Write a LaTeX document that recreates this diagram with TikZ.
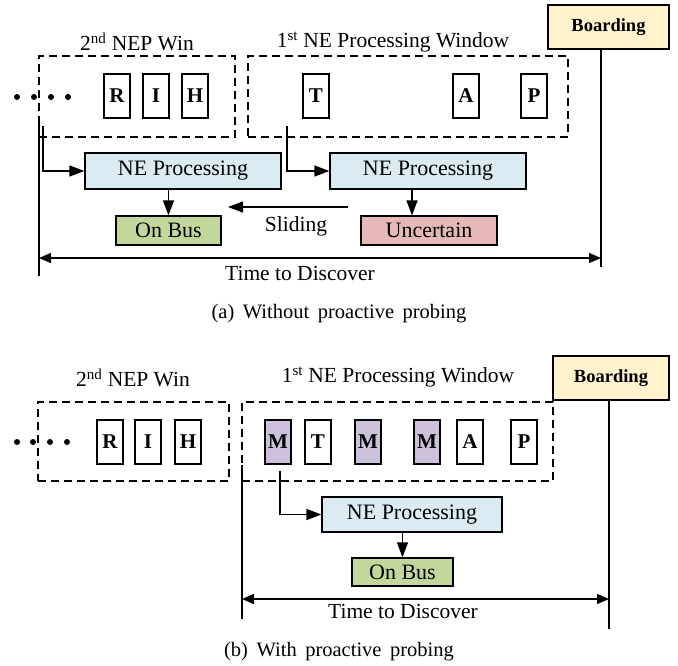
\documentclass[tikz,border=0pt]{standalone}
\usepackage{fontspec}
\setmainfont{Liberation Serif}
\usetikzlibrary{arrows.meta}
\definecolor{procblue}{RGB}{218,236,242}
\definecolor{busgreen}{RGB}{195,214,155}
\definecolor{uncpink}{RGB}{230,184,183}
\definecolor{brdyellow}{RGB}{255,242,204}
\definecolor{mpurple}{RGB}{204,192,218}
\tikzset{
  win/.style={draw, dashed, dash pattern=on 8pt off 5pt, line width=1.2pt, inner sep=0pt},
  ltr/.style={draw, line width=1.2pt, minimum width=26pt, minimum height=44pt, inner sep=0pt,
    font=\fontsize{21}{23}\selectfont\bfseries},
  mltr/.style={ltr, fill=mpurple},
  proc/.style={draw, line width=1.2pt, fill=procblue, minimum height=36pt, inner sep=0pt,
    font=\fontsize{22}{24}\selectfont},
  res/.style={draw, line width=1.2pt, minimum height=29pt, inner sep=0pt,
    font=\fontsize{22}{24}\selectfont},
  brd/.style={draw, line width=1.2pt, fill=brdyellow, inner sep=0pt,
    font=\fontsize{18.5}{20}\selectfont\bfseries},
  lbl/.style={font=\fontsize{21.5}{24}\selectfont, inner sep=0pt},
  captext/.style={font=\fontsize{20.5}{24}\selectfont, inner sep=0pt},
  arr/.style={line width=1.2pt, -{Triangle[length=15pt,width=11pt]}},
  darr/.style={line width=1.4pt, {Triangle[length=12pt,width=10pt]}-{Triangle[length=12pt,width=10pt]}},
  tline/.style={line width=1.6pt},
  dot/.style={circle, fill, inner sep=0pt, minimum size=6pt}
}
\begin{document}
\begin{tikzpicture}[x=1pt,y=-1pt]
\useasboundingbox (0,0) rectangle (678,665);

% (a) without proactive probing
\foreach \i/\x in {1/17,2/34,3/51,4/68} \node[dot] (ad\i) at (\x,97) {};
\node[win, minimum width=196pt, minimum height=81pt] (aw2) at (137,96.5) {};
\node[win, minimum width=320pt, minimum height=81pt] (aw1) at (408,96.5) {};
\node[lbl] (awl2) at (137,42) {2\textsuperscript{nd} NEP Win};
\node[lbl] (awl1) at (393,42) {1\textsuperscript{st} NE Processing Window};
\node[ltr] (aR) at (117,96) {R};
\node[ltr] (aI) at (156,96) {I};
\node[ltr] (aH) at (195,96) {H};
\node[ltr] (aT) at (316,96) {T};
\node[ltr] (aA) at (466,96) {A};
\node[ltr] (aP) at (534,96) {P};
\node[brd, minimum width=121pt, minimum height=44pt] (abrd) at (608.5,27) {Boarding};
\node[proc, minimum width=196pt] (ane1) at (183,171) {NE Processing};
\node[proc, minimum width=196pt] (ane2) at (428,171) {NE Processing};
\node[res, fill=busgreen, minimum width=105pt] (abus) at (168.5,230.5) {On Bus};
\node[res, fill=uncpink, minimum width=136pt] (aunc) at (429,230.5) {Uncertain};
\coordinate (atop) at (39,118);
\coordinate (abot) at (39,276);
\coordinate (aend) at (601,267);
\coordinate (as1) at (43,126);
\coordinate (as2) at (287,126);
\coordinate (asl1) at (348,207);
\coordinate (asl2) at (228,207);
\draw[tline] (atop) -- (abot);
\draw[tline] (abrd.south -| aend) -- (aend);
\draw[arr] (as1) |- (ane1.west);
\draw[arr] (as2) |- (ane2.west);
\draw[arr] (ane1.south -| abus.north) -- (abus.north);
\draw[arr] (ane2.south -| 412,0) -- (aunc.north -| 412,0);
\draw[arr] (asl1) -- (asl2);
\node[lbl] (aslt) at (296,226) {Sliding};
\draw[darr] (atop |- 0,258) -- (aend |- 0,258);
\node[lbl] (atime) at (300,273) {Time to Discover};
\node[captext] (acap) at (339,314) {(a)\, Without\, proactive\, probing};

% (b) with proactive probing
\foreach \i/\x in {1/17,2/33,3/50,4/67} \node[dot] (bd\i) at (\x,442) {};
\node[win, minimum width=191pt, minimum height=79pt] (bw2) at (133.5,441.5) {};
\node[win, minimum width=311pt, minimum height=79pt] (bw1) at (397.5,441.5) {};
\node[lbl] (bwl2) at (133,378) {2\textsuperscript{nd} NEP Win};
\node[lbl] (bwl1) at (398,377) {1\textsuperscript{st} NE Processing Window};
\node[ltr] (bR) at (110,442) {R};
\node[ltr] (bI) at (148,442) {I};
\node[ltr] (bH) at (188,442) {H};
\node[mltr] (bM1) at (278,442) {M};
\node[ltr] (bT) at (318,442) {T};
\node[mltr] (bM2) at (368,442) {M};
\node[mltr] (bM3) at (427,442) {M};
\node[ltr] (bA) at (470,442) {A};
\node[ltr] (bP) at (524,442) {P};
\node[brd, minimum width=116pt, minimum height=44pt] (bbrd) at (611,378) {Boarding};
\node[proc, minimum width=180pt, minimum height=35pt] (bne) at (412,514.5) {NE Processing};
\node[res, fill=busgreen, minimum width=101pt, minimum height=28pt] (bbus) at (402.5,572) {On Bus};
\coordinate (btop) at (242,465);
\coordinate (bbot) at (242,619);
\coordinate (bend) at (609,629);
\coordinate (bs1) at (280,471);
\draw[tline] (btop) -- (bbot);
\draw[tline] (bbrd.south -| bend) -- (bend);
\draw[arr] (bs1) |- (bne.west);
\draw[arr] (bne.south -| bbus.north) -- (bbus.north);
\draw[darr] (btop |- 0,599) -- (bend |- 0,599);
\node[lbl] (btime) at (403,611) {Time to Discover};
\node[captext] (bcap) at (339,652) {(b)\, With\, proactive\, probing};
\end{tikzpicture}
\end{document}
